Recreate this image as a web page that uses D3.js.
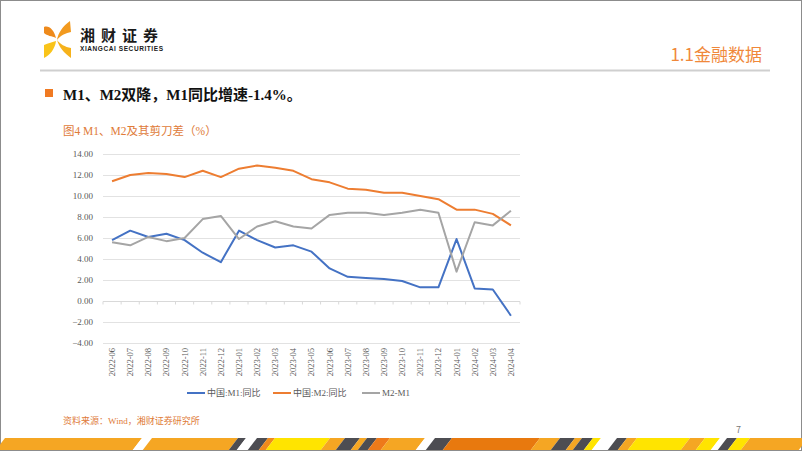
<!DOCTYPE html>
<html>
<head>
<meta charset="utf-8">
<script src="https://cdn.jsdelivr.net/npm/d3@7"></script>
<style>
  html, body { margin: 0; padding: 0; background: #fff; }
  svg { display: block; }
</style>
</head>
<body>
<svg id="chart" width="802" height="451" viewBox="0 0 802 451"></svg>
<script>
// months on the x axis
const months = ["2022-06","2022-07","2022-08","2022-09","2022-10","2022-11","2022-12",
  "2023-01","2023-02","2023-03","2023-04","2023-05","2023-06","2023-07","2023-08",
  "2023-09","2023-10","2023-11","2023-12","2024-01","2024-02","2024-03","2024-04"];

// series values (%)
const m1Yoy = [5.8, 6.7, 6.1, 6.4, 5.8, 4.6, 3.7, 6.7, 5.8, 5.1, 5.3, 4.7, 3.1, 2.3, 2.2, 2.1, 1.9, 1.3, 1.3, 5.9, 1.2, 1.1, -1.4];
const m2Yoy = [11.4, 12.0, 12.2, 12.1, 11.8, 12.4, 11.8, 12.6, 12.9, 12.7, 12.4, 11.6, 11.3, 10.7, 10.6, 10.3, 10.3, 10.0, 9.7, 8.7, 8.7, 8.3, 7.2];
const m2m1 = [5.6, 5.3, 6.1, 5.7, 6.0, 7.8, 8.1, 5.9, 7.1, 7.6, 7.1, 6.9, 8.2, 8.4, 8.4, 8.2, 8.4, 8.7, 8.4, 2.8, 7.5, 7.2, 8.6];

const seriesNames = ["中国:M1:同比", "中国:M2:同比", "M2-M1"];
const seriesColors = ["#4472C4", "#ED7D31", "#A5A5A5"];
const yTicks = [-4, -2, 0, 2, 4, 6, 8, 10, 12, 14];

const svg = d3.select("#chart");
const serif = "'Liberation Serif', 'Times New Roman', 'Noto Sans CJK SC', serif";
const sans = "'Noto Sans CJK SC', 'Noto Sans', sans-serif";

// page frame
svg.append("rect").attr("x", 0.5).attr("y", 0.5).attr("width", 801).attr("height", 450)
  .attr("fill", "#fff").attr("stroke", "#8c8c8c");

// ---- header ----
const logo = svg.append("g").attr("transform", "translate(43,21)");
logo.append("path").attr("d", "M1,6 C6,4 11,9 13,17 C9,15 4,15 1,12 Z").attr("fill", "#EE8A1C");
logo.append("path").attr("d", "M27,0 C20,5 15,12 14,19 C18,14 23,12 28,11 Z").attr("fill", "#F29A1F");
logo.append("path").attr("d", "M14,19 C16,26 21,32 28,37 L28,27 C22,26 17,23 14,19 Z").attr("fill", "#F6B21B");
logo.append("path").attr("d", "M1,24 C5,22 10,21 13,20 C12,28 7,34 1,37 Z").attr("fill", "#F9C41A");

svg.append("text").attr("x", 80).attr("y", 41).text("湘财证券")
  .attr("font-family", sans).attr("font-weight", "bold").attr("font-size", 15)
  .attr("letter-spacing", 6).attr("fill", "#1a1a1a");
svg.append("text").attr("x", 80).attr("y", 51).text("XIANGCAI SECURITIES")
  .attr("font-family", "'Liberation Sans', Arial, sans-serif").attr("font-weight", "bold")
  .attr("font-size", 6.5).attr("textLength", 83).attr("fill", "#1a1a1a");

svg.append("text").attr("x", 762).attr("y", 61).attr("text-anchor", "end").text("1.1金融数据")
  .attr("font-family", sans).attr("font-size", 17).attr("fill", "#F0883A");

svg.append("line").attr("x1", 40).attr("x2", 770).attr("y1", 70.5).attr("y2", 70.5)
  .attr("stroke", "#cfcfcf").attr("stroke-width", 2);

// heading
svg.append("rect").attr("x", 45).attr("y", 89).attr("width", 8).attr("height", 8).attr("fill", "#F07A22");
svg.append("text").attr("x", 63).attr("y", 100).text("M1、M2双降，M1同比增速-1.4%。")
  .attr("font-family", serif).attr("font-weight", "bold").attr("font-size", 15).attr("fill", "#111");

svg.append("text").attr("x", 63).attr("y", 135).text("图4 M1、M2及其剪刀差（%）")
  .attr("font-family", serif).attr("font-size", 11.5).attr("fill", "#E07B39");

// ---- chart ----
const x = d3.scaleBand().domain(months).range([103, 520]);
const y = d3.scaleLinear().domain([-4, 14]).range([343, 154]);
const cx = d => x(d) + x.bandwidth() / 2;

const grid = svg.append("g");
grid.selectAll("line").data(yTicks).join("line")
  .attr("x1", 103).attr("x2", 520)
  .attr("y1", d => Math.round(y(d)) + 0.5).attr("y2", d => Math.round(y(d)) + 0.5)
  .attr("stroke", "#e2e2e2").attr("stroke-width", 1);

svg.append("g").selectAll("text").data(yTicks).join("text")
  .attr("x", 93).attr("y", d => y(d)).attr("dy", "0.35em").attr("text-anchor", "end")
  .text(d => d3.format(".2f")(d))
  .attr("font-family", serif).attr("font-size", 9).attr("fill", "#595959");

// x axis on zero line
const xAxis = svg.append("g").attr("transform", `translate(0,${Math.round(y(0)) + 0.5})`);
xAxis.append("line").attr("x1", 103).attr("x2", 520).attr("stroke", "#d9d9d9");
xAxis.selectAll("line.tk").data(months.concat(["end"])).join("line").attr("class", "tk")
  .attr("x1", (d, i) => 103 + i * x.step()).attr("x2", (d, i) => 103 + i * x.step())
  .attr("y1", 0).attr("y2", 3).attr("stroke", "#d9d9d9");

svg.append("g").selectAll("text").data(months).join("text")
  .attr("transform", d => `translate(${cx(d)},348) rotate(-90)`)
  .attr("text-anchor", "end").attr("dy", "0.35em")
  .text(d => d)
  .attr("font-family", serif).attr("font-size", 8.5).attr("fill", "#595959");

const line = d3.line().x((d, i) => cx(months[i])).y(d => y(d));
const allSeries = [m1Yoy, m2Yoy, m2m1];
svg.append("g").selectAll("path").data(allSeries).join("path")
  .attr("d", line).attr("fill", "none")
  .attr("stroke", (d, i) => seriesColors[i]).attr("stroke-width", 2)
  .attr("stroke-linejoin", "round");

// legend
const legendX = [187, 273, 362];
const legend = svg.append("g").selectAll("g").data(seriesNames).join("g")
  .attr("transform", (d, i) => `translate(${legendX[i]},393)`);
legend.append("line").attr("x1", 0).attr("x2", 18).attr("stroke", (d, i) => seriesColors[i]).attr("stroke-width", 2);
legend.append("text").attr("x", 20).attr("dy", "0.35em").text(d => d)
  .attr("font-family", serif).attr("font-size", 9).attr("fill", "#595959");

svg.append("text").attr("x", 63).attr("y", 424).text("资料来源：Wind，湘财证券研究所")
  .attr("font-family", serif).attr("font-size", 9).attr("fill", "#E07B39");

svg.append("text").attr("x", 736).attr("y", 433).text("7")
  .attr("font-family", sans).attr("font-size", 9).attr("fill", "#777");

// ---- footer stripe band ----
const stripes = [
  [0, 137, "#F5A623"], [137, 147, "#ffffff"], [147, 233, "#F5A623"], [233, 241, "#4d4d52"],
  [241, 252, "#ffffff"], [252, 263, "#4d4d52"], [263, 270, "#F08A1C"], [270, 325, "#FFE400"],
  [325, 340, "#F5A623"], [340, 355, "#4d4d52"], [355, 362, "#F5A623"], [362, 372, "#4d4d52"],
  [372, 385, "#EE7A1A"], [385, 420, "#F5A623"], [420, 430, "#ffffff"], [430, 447, "#4d4d52"],
  [447, 535, "#E8790E"], [535, 555, "#F5A623"], [555, 570, "#4d4d52"], [570, 577, "#F5A623"],
  [577, 588, "#4d4d52"], [588, 596, "#FFE400"], [596, 612, "#ffffff"], [612, 622, "#4d4d52"],
  [622, 632, "#F5A623"], [632, 685, "#FFE400"], [685, 700, "#F5A623"], [700, 715, "#FFE400"],
  [715, 722, "#ffffff"], [722, 732, "#4d4d52"], [732, 745, "#FFE400"], [745, 803, "#F5A623"]
];
const bandTop = 438, bandBot = 451, skew = 5;
svg.append("g").selectAll("path").data(stripes).join("path")
  .attr("d", d => `M${d[0] + skew},${bandTop} L${d[1] + skew},${bandTop} L${d[1] - skew},${bandBot} L${d[0] - skew},${bandBot} Z`)
  .attr("fill", d => d[2]);
svg.append("line").attr("x1", 0).attr("x2", 802).attr("y1", 450.5).attr("y2", 450.5).attr("stroke", "#8c8c8c");
</script>
</body>
</html>
